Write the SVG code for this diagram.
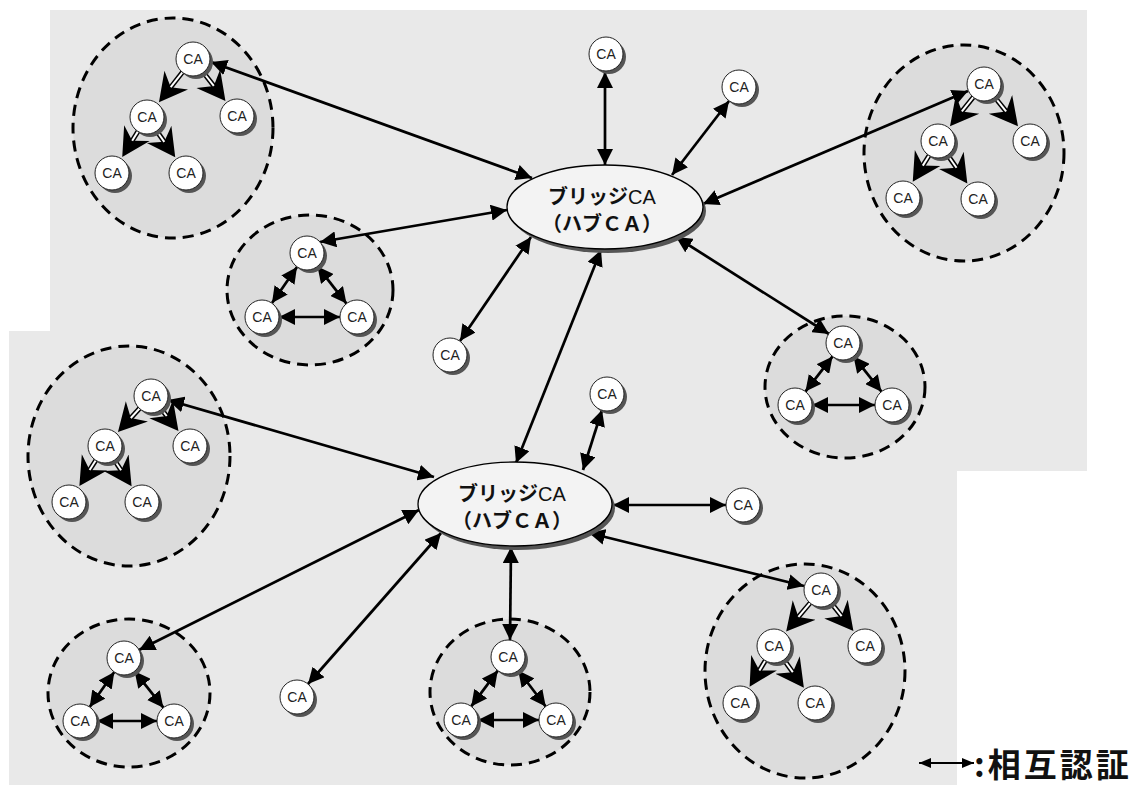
<svg xmlns="http://www.w3.org/2000/svg" width="1134" height="785" viewBox="0 0 1134 785">
<style>
.bg{fill:#e9e9e9}
.cl{fill:#dcdcdc;stroke:#000;stroke-width:3;stroke-dasharray:11 7}
.cn{fill:none;stroke:#000;stroke-width:2.7;marker-start:url(#ah);marker-end:url(#ah)}
.tb{fill:none;stroke:#000;stroke-width:5;marker-end:url(#th)}
.tw{fill:none;stroke:#fff;stroke-width:2}
.sh{fill:#555}
.ca{fill:#fff;stroke:#222;stroke-width:1}
.lbl{font-family:"Liberation Sans",Arial,sans-serif;font-size:14px;fill:#222;text-anchor:middle}
.hub{fill:#f3f3f3;stroke:#000;stroke-width:1.3}
.ht{font-family:"Noto Sans CJK JP","Noto Sans",sans-serif;font-size:20px;font-weight:bold;fill:#111;text-anchor:middle}
.hl{font-family:"Liberation Sans",Arial,sans-serif;font-weight:normal}
.lg{font-family:"Noto Sans CJK JP","Noto Sans",sans-serif;font-size:33px;font-weight:bold;fill:#111;letter-spacing:3px}
</style>
<defs>
<marker id="ah" markerUnits="userSpaceOnUse" markerWidth="16" markerHeight="16" viewBox="0 0 16 16" refX="16" refY="8" orient="auto-start-reverse"><path d="M0,0 L16,8 L0,16 Z" fill="#000"/></marker>
<marker id="ahs" markerUnits="userSpaceOnUse" markerWidth="12" markerHeight="10" viewBox="0 0 12 10" refX="12" refY="5" orient="auto-start-reverse"><path d="M0,0 L12,5 L0,10 Z" fill="#000"/></marker>
<marker id="th" markerUnits="userSpaceOnUse" markerWidth="32" markerHeight="32" viewBox="0 -16 32 32" refX="9" refY="0" orient="auto"><path d="M0,-15 L28,0 L0,15 L9,0 Z" fill="#000"/></marker>
</defs>

<g id="background">
<rect class="bg" x="50" y="10" width="1037" height="461"/>
<rect class="bg" x="9" y="331" width="948" height="454"/>
</g>

<g id="clusters">
<ellipse id="clusterA" class="cl" cx="173" cy="128" rx="100" ry="110"/>
<ellipse id="clusterB" class="cl" cx="310" cy="290" rx="83" ry="75"/>
<ellipse id="clusterC" class="cl" cx="964" cy="153" rx="100" ry="108"/>
<ellipse id="clusterD" class="cl" cx="845" cy="387" rx="80" ry="71"/>
<ellipse id="clusterE" class="cl" cx="129" cy="456" rx="101" ry="110"/>
<ellipse id="clusterF" class="cl" cx="129" cy="693" rx="81" ry="74"/>
<ellipse id="clusterG" class="cl" cx="510" cy="692" rx="80" ry="73"/>
<ellipse id="clusterH" class="cl" cx="805" cy="671" rx="100" ry="107"/>
</g>

<g id="connectors">
<path class="cn" d="M211,62 L532,178"/>
<path class="cn" d="M320,242 L507,210"/>
<path class="cn" d="M460,341 L531,237"/>
<path class="cn" d="M601,250 L516,463"/>
<path class="cn" d="M829,334 L676,237"/>
<path class="cn" d="M968,91 L703,204"/>
<path class="cn" d="M605,72 L605,165"/>
<path class="cn" d="M729,101 L672,175"/>
<path class="cn" d="M168,400 L434,477"/>
<path class="cn" d="M602,410 L583,470"/>
<path class="cn" d="M726,505 L613,505"/>
<path class="cn" d="M804,586 L589,533"/>
<path class="cn" d="M510,640 L511,547"/>
<path class="cn" d="M308,684 L441,533"/>
<path class="cn" d="M139,650 L419,510"/>
<path class="cn" d="M297,267 L272,303"/>
<path class="cn" d="M317.5,266.4 L346.5,303.6"/>
<path class="cn" d="M279,317 L340,317"/>
<path class="cn" d="M832.6,356.4 L805.4,391.6"/>
<path class="cn" d="M853.5,356.3 L881.5,391.7"/>
<path class="cn" d="M812,405 L875,405"/>
<path class="cn" d="M114.3,671.9 L89.7,707.1"/>
<path class="cn" d="M134.6,671.3 L163.4,707.7"/>
<path class="cn" d="M97,721 L157,721"/>
<path class="cn" d="M497.8,670.6 L471.2,706.4"/>
<path class="cn" d="M518.3,670.5 L545.7,706.5"/>
<path class="cn" d="M478,720 L539,720"/>
<path class="tb" d="M182.4,72.3 L170.7,87.2"/><path class="tw" d="M182.4,72.3 L170.7,87.2"/>
<path class="tb" d="M203.4,72.5 L213.8,85.9"/><path class="tw" d="M203.4,72.5 L213.8,85.9"/>
<path class="tb" d="M138,131.4 L132.2,140.8"/><path class="tw" d="M138,131.4 L132.2,140.8"/>
<path class="tb" d="M156.7,131 L164.3,141.8"/><path class="tw" d="M156.7,131 L164.3,141.8"/>
<path class="tb" d="M973.3,97.2 L961.9,111.4"/><path class="tw" d="M973.3,97.2 L961.9,111.4"/>
<path class="tb" d="M994.7,97.2 L1006.1,111.4"/><path class="tw" d="M994.7,97.2 L1006.1,111.4"/>
<path class="tb" d="M929.1,155.5 L922.8,165.6"/><path class="tw" d="M929.1,155.5 L922.8,165.6"/>
<path class="tb" d="M947.6,155 L956.5,167.8"/><path class="tw" d="M947.6,155 L956.5,167.8"/>
<path class="tb" d="M139.5,408.5 L130.8,418"/><path class="tw" d="M139.5,408.5 L130.8,418"/>
<path class="tb" d="M161.5,409.4 L166.7,416"/><path class="tw" d="M161.5,409.4 L166.7,416"/>
<path class="tb" d="M95.8,460.3 L89.6,470"/><path class="tw" d="M95.8,460.3 L89.6,470"/>
<path class="tb" d="M114.4,460.2 L121.1,470.3"/><path class="tw" d="M114.4,460.2 L121.1,470.3"/>
<path class="tb" d="M810.1,603 L798.4,616.9"/><path class="tw" d="M810.1,603 L798.4,616.9"/>
<path class="tb" d="M831.5,603.4 L841.6,616.1"/><path class="tw" d="M831.5,603.4 L841.6,616.1"/>
<path class="tb" d="M765.3,660.6 L759.4,670.4"/><path class="tw" d="M765.3,660.6 L759.4,670.4"/>
<path class="tb" d="M783.9,659.8 L792.8,672.2"/><path class="tw" d="M783.9,659.8 L792.8,672.2"/>
</g>

<g id="hub1"><ellipse class="sh" cx="608" cy="211" rx="98" ry="42"/><ellipse class="hub" cx="605" cy="207" rx="98" ry="42"/>
<text class="ht" x="602" y="204">ブリッジ<tspan class="hl">CA</tspan></text><text class="ht" x="602" y="231">（ハブＣＡ）</text></g>
<g id="hub2"><ellipse class="sh" cx="518" cy="508" rx="97" ry="42"/><ellipse class="hub" cx="515" cy="504" rx="97" ry="42"/>
<text class="ht" x="512" y="501">ブリッジ<tspan class="hl">CA</tspan></text><text class="ht" x="512" y="528">（ハブＣＡ）</text></g>

<g id="a1" transform="translate(193,59)"><circle class="sh" cx="3" cy="3" r="17"/><circle class="ca" r="17"/><text class="lbl" y="5">CA</text></g>
<g id="a2" transform="translate(147,117)"><circle class="sh" cx="3" cy="3" r="17"/><circle class="ca" r="17"/><text class="lbl" y="5">CA</text></g>
<g id="a3" transform="translate(237,116)"><circle class="sh" cx="3" cy="3" r="17"/><circle class="ca" r="17"/><text class="lbl" y="5">CA</text></g>
<g id="a4" transform="translate(112,173)"><circle class="sh" cx="3" cy="3" r="17"/><circle class="ca" r="17"/><text class="lbl" y="5">CA</text></g>
<g id="a5" transform="translate(186,173)"><circle class="sh" cx="3" cy="3" r="17"/><circle class="ca" r="17"/><text class="lbl" y="5">CA</text></g>
<g id="b1" transform="translate(307,253)"><circle class="sh" cx="3" cy="3" r="17"/><circle class="ca" r="17"/><text class="lbl" y="5">CA</text></g>
<g id="b2" transform="translate(262,317)"><circle class="sh" cx="3" cy="3" r="17"/><circle class="ca" r="17"/><text class="lbl" y="5">CA</text></g>
<g id="b3" transform="translate(357,317)"><circle class="sh" cx="3" cy="3" r="17"/><circle class="ca" r="17"/><text class="lbl" y="5">CA</text></g>
<g id="c1" transform="translate(984,84)"><circle class="sh" cx="3" cy="3" r="17"/><circle class="ca" r="17"/><text class="lbl" y="5">CA</text></g>
<g id="c2" transform="translate(938,141)"><circle class="sh" cx="3" cy="3" r="17"/><circle class="ca" r="17"/><text class="lbl" y="5">CA</text></g>
<g id="c3" transform="translate(1030,141)"><circle class="sh" cx="3" cy="3" r="17"/><circle class="ca" r="17"/><text class="lbl" y="5">CA</text></g>
<g id="c4" transform="translate(903,198)"><circle class="sh" cx="3" cy="3" r="17"/><circle class="ca" r="17"/><text class="lbl" y="5">CA</text></g>
<g id="c5" transform="translate(978,199)"><circle class="sh" cx="3" cy="3" r="17"/><circle class="ca" r="17"/><text class="lbl" y="5">CA</text></g>
<g id="d1" transform="translate(843,343)"><circle class="sh" cx="3" cy="3" r="17"/><circle class="ca" r="17"/><text class="lbl" y="5">CA</text></g>
<g id="d2" transform="translate(795,405)"><circle class="sh" cx="3" cy="3" r="17"/><circle class="ca" r="17"/><text class="lbl" y="5">CA</text></g>
<g id="d3" transform="translate(892,405)"><circle class="sh" cx="3" cy="3" r="17"/><circle class="ca" r="17"/><text class="lbl" y="5">CA</text></g>
<g id="e1" transform="translate(151,396)"><circle class="sh" cx="3" cy="3" r="17"/><circle class="ca" r="17"/><text class="lbl" y="5">CA</text></g>
<g id="e2" transform="translate(105,446)"><circle class="sh" cx="3" cy="3" r="17"/><circle class="ca" r="17"/><text class="lbl" y="5">CA</text></g>
<g id="e3" transform="translate(190,446)"><circle class="sh" cx="3" cy="3" r="17"/><circle class="ca" r="17"/><text class="lbl" y="5">CA</text></g>
<g id="e4" transform="translate(69,502)"><circle class="sh" cx="3" cy="3" r="17"/><circle class="ca" r="17"/><text class="lbl" y="5">CA</text></g>
<g id="e5" transform="translate(142,502)"><circle class="sh" cx="3" cy="3" r="17"/><circle class="ca" r="17"/><text class="lbl" y="5">CA</text></g>
<g id="f1" transform="translate(124,658)"><circle class="sh" cx="3" cy="3" r="17"/><circle class="ca" r="17"/><text class="lbl" y="5">CA</text></g>
<g id="f2" transform="translate(80,721)"><circle class="sh" cx="3" cy="3" r="17"/><circle class="ca" r="17"/><text class="lbl" y="5">CA</text></g>
<g id="f3" transform="translate(174,721)"><circle class="sh" cx="3" cy="3" r="17"/><circle class="ca" r="17"/><text class="lbl" y="5">CA</text></g>
<g id="g1" transform="translate(508,657)"><circle class="sh" cx="3" cy="3" r="17"/><circle class="ca" r="17"/><text class="lbl" y="5">CA</text></g>
<g id="g2" transform="translate(461,720)"><circle class="sh" cx="3" cy="3" r="17"/><circle class="ca" r="17"/><text class="lbl" y="5">CA</text></g>
<g id="g3" transform="translate(556,720)"><circle class="sh" cx="3" cy="3" r="17"/><circle class="ca" r="17"/><text class="lbl" y="5">CA</text></g>
<g id="h1" transform="translate(821,590)"><circle class="sh" cx="3" cy="3" r="17"/><circle class="ca" r="17"/><text class="lbl" y="5">CA</text></g>
<g id="h2" transform="translate(774,646)"><circle class="sh" cx="3" cy="3" r="17"/><circle class="ca" r="17"/><text class="lbl" y="5">CA</text></g>
<g id="h3" transform="translate(865,646)"><circle class="sh" cx="3" cy="3" r="17"/><circle class="ca" r="17"/><text class="lbl" y="5">CA</text></g>
<g id="h4" transform="translate(740,703)"><circle class="sh" cx="3" cy="3" r="17"/><circle class="ca" r="17"/><text class="lbl" y="5">CA</text></g>
<g id="h5" transform="translate(815,703)"><circle class="sh" cx="3" cy="3" r="17"/><circle class="ca" r="17"/><text class="lbl" y="5">CA</text></g>
<g id="s1" transform="translate(606,54)"><circle class="sh" cx="3" cy="3" r="17"/><circle class="ca" r="17"/><text class="lbl" y="5">CA</text></g>
<g id="s2" transform="translate(739,87)"><circle class="sh" cx="3" cy="3" r="17"/><circle class="ca" r="17"/><text class="lbl" y="5">CA</text></g>
<g id="s3" transform="translate(450,355)"><circle class="sh" cx="3" cy="3" r="17"/><circle class="ca" r="17"/><text class="lbl" y="5">CA</text></g>
<g id="s4" transform="translate(607,394)"><circle class="sh" cx="3" cy="3" r="17"/><circle class="ca" r="17"/><text class="lbl" y="5">CA</text></g>
<g id="s5" transform="translate(743,505)"><circle class="sh" cx="3" cy="3" r="17"/><circle class="ca" r="17"/><text class="lbl" y="5">CA</text></g>
<g id="s6" transform="translate(297,697)"><circle class="sh" cx="3" cy="3" r="17"/><circle class="ca" r="17"/><text class="lbl" y="5">CA</text></g>

<g id="legend">
<path d="M919,763 L974,763" fill="none" stroke="#000" stroke-width="2" marker-start="url(#ahs)" marker-end="url(#ahs)"/>
<text class="lg" x="974" y="777">:相互認証</text>
</g>
</svg>
